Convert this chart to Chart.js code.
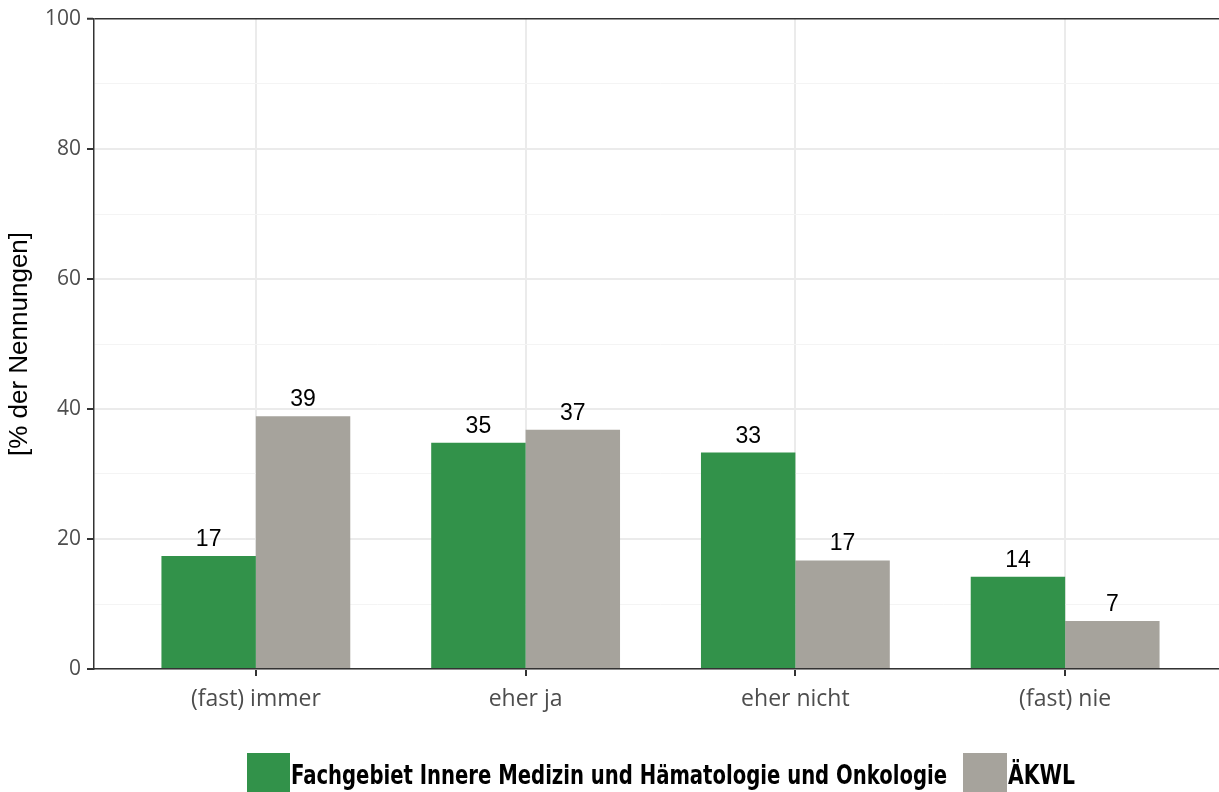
<!DOCTYPE html>
<html>
<head>
<meta charset="utf-8">
<script src="https://cdn.jsdelivr.net/npm/chart.js@4.4.1/dist/chart.umd.min.js"></script>
<style>
  html, body { margin: 0; padding: 0; background: #fff; overflow: hidden; }
  #wrap { width: 1232px; height: 792px; position: relative; }
</style>
</head>
<body>
<div id="wrap"><canvas id="answerChart"></canvas></div>
<script>
// chart data
var categories = ["(fast) immer", "eher ja", "eher nicht", "(fast) nie"];
var seriesNames = ["Fachgebiet Innere Medizin und Hämatologie und Onkologie", "ÄKWL"];
var fachgebietValues = [17.4, 34.8, 33.3, 14.2];
var aekwlValues = [38.9, 36.8, 16.7, 7.4];
var yTicks = [0, 20, 40, 60, 80, 100];

var green = "#32924a";
var grey = "#a6a39c";

function toPoints(values) {
  var pts = [];
  for (var i = 0; i < values.length; ++i) {
    pts.push({x: i, y: values[i]});
  }
  return pts;
}

// numbers above the bars
var valueLabels = {
  id: "valueLabels",
  afterDatasetsDraw: function(chart) {
    var ctx = chart.ctx;
    ctx.save();
    ctx.font = "23px 'Liberation Sans', Arial, sans-serif";
    ctx.fillStyle = "#000";
    ctx.textAlign = "center";
    ctx.textBaseline = "alphabetic";
    chart.data.datasets.forEach(function(ds, i) {
      var meta = chart.getDatasetMeta(i);
      meta.data.forEach(function(bar, j) {
        ctx.fillText(String(Math.round(ds.data[j].y)), bar.x, bar.y - 10);
      });
    });
    ctx.restore();
  }
};

// legend under the axis, boxes touching the text
var bottomLegend = {
  id: "bottomLegend",
  afterDraw: function(chart) {
    var ctx = chart.ctx;
    ctx.save();
    ctx.font = "bold 26px 'Liberation Sans Narrow', 'DejaVu Sans Condensed', 'Open Sans', sans-serif";
    ctx.textBaseline = "alphabetic";
    ctx.fillStyle = green;
    ctx.fillRect(247, 753, 43, 42);
    ctx.fillStyle = "#000";
    ctx.fillText(seriesNames[0], 291, 784, 656);
    ctx.fillStyle = grey;
    ctx.fillRect(963, 753, 44, 42);
    ctx.fillStyle = "#000";
    ctx.fillText(seriesNames[1], 1008, 784, 67);
    ctx.restore();
  }
};

var ctx = document.getElementById("answerChart");

var answerChart = new Chart(ctx, {
  type: "bar",
  data: {
    datasets: [{
      label: seriesNames[0],
      data: toPoints(fachgebietValues),
      backgroundColor: green
    }, {
      label: seriesNames[1],
      data: toPoints(aekwlValues),
      backgroundColor: grey
    }]
  },
  options: {
    responsive: true,
    maintainAspectRatio: false,
    animation: false,
    layout: {padding: {top: 19, right: 5, bottom: 0, left: 0}},
    datasets: {bar: {categoryPercentage: 0.7, barPercentage: 1.0}},
    plugins: {
      legend: {display: false},
      tooltip: {enabled: false}
    },
    scales: {
      x: {
        type: "linear",
        min: -0.6,
        max: 3.6,
        offset: false,
        afterBuildTicks: function(scale) {
          scale.ticks = categories.map(function(c, i) { return {value: i}; });
        },
        afterFit: function(scale) { scale.height = 123; },
        ticks: {
          autoSkip: false,
          maxRotation: 0,
          padding: 10,
          color: "#4d4d4d",
          font: {family: "'Open Sans', sans-serif", size: 23},
          callback: function(v) { return categories[v]; }
        },
        grid: {offset: false, color: "#ebebeb", lineWidth: 2, tickLength: 7, tickColor: "#333", tickWidth: 2},
        border: {color: "#333", width: 1.5}
      },
      y: {
        min: 0,
        max: 100,
        afterBuildTicks: function(scale) {
          var t = [];
          for (var v = 0; v <= 100; v += 10) t.push({value: v});
          scale.ticks = t;
        },
        afterFit: function(scale) { scale.width = 94; },
        ticks: {
          padding: 6,
          color: "#4d4d4d",
          font: {family: "'Open Sans', sans-serif", size: 21},
          callback: function(v) { return yTicks.indexOf(v) >= 0 ? String(v) : ""; }
        },
        grid: {
          color: function(c) {
            if (c.tick.value === 100) return "#333";
            return c.tick.value % 20 === 0 ? "#ebebeb" : "#f4f4f4";
          },
          lineWidth: function(c) {
            if (c.tick.value === 100) return 1.5;
            return c.tick.value % 20 === 0 ? 2 : 1;
          },
          tickLength: 7,
          tickWidth: 2,
          tickColor: function(c) {
            return c.tick.value % 20 === 0 ? "#333" : "rgba(0,0,0,0)";
          }
        },
        border: {color: "#333", width: 1.5},
        title: {
          display: true,
          text: "[% der Nennungen]",
          color: "#000",
          font: {family: "'Liberation Sans', Arial, sans-serif", size: 26},
          padding: {top: 4, bottom: 0}
        }
      }
    }
  },
  plugins: [valueLabels, bottomLegend]
});
</script>
</body>
</html>
